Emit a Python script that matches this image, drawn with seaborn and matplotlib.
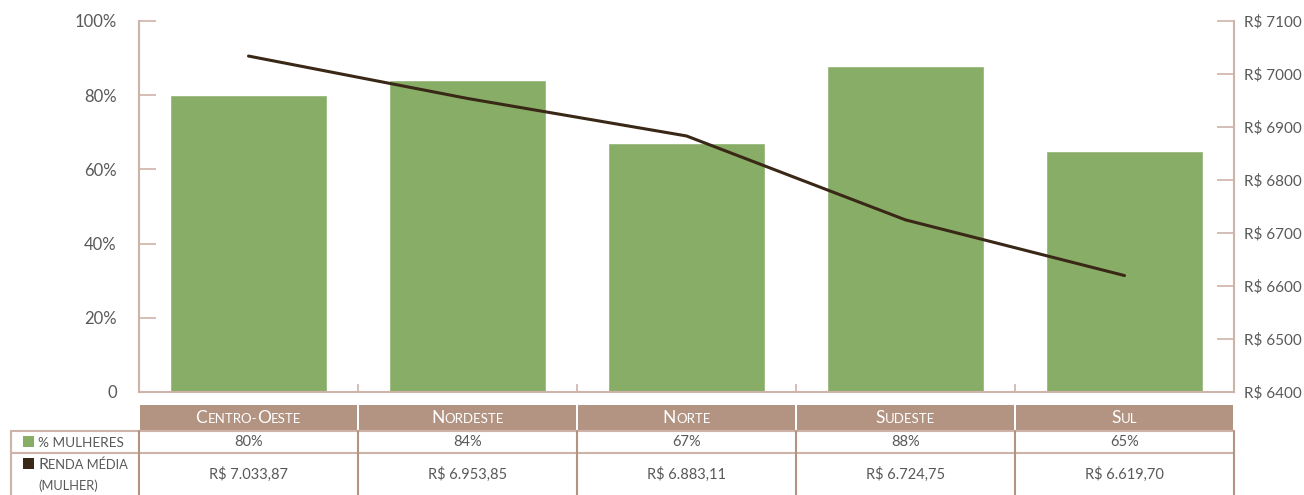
import matplotlib
matplotlib.use("Agg")
import matplotlib.pyplot as plt
import seaborn as sns
import pandas as pd
from matplotlib.patches import Rectangle

regioes = ["Centro-Oeste", "Nordeste", "Norte", "Sudeste", "Sul"]
pct_mulheres = [80, 84, 67, 88, 65]
renda_media = [7033.87, 6953.85, 6883.11, 6724.75, 6619.70]
pct_labels = ["80%", "84%", "67%", "88%", "65%"]
renda_labels = ["R$ 7.033,87", "R$ 6.953,85", "R$ 6.883,11", "R$ 6.724,75", "R$ 6.619,70"]
left_ticks = [0, 20, 40, 60, 80, 100]
right_ticks = [6400, 6500, 6600, 6700, 6800, 6900, 7000, 7100]

GREEN = "#88ad67"
DARK = "#3a2817"
BROWN = "#b39482"
AXIS = "#cdb3a8"
TXT = "#595959"

sns.set_theme(style="white")
plt.rcParams["font.family"] = ["Lato", "DejaVu Sans"]

W, H = 1304, 495
fig = plt.figure(figsize=(W / 100, H / 100), dpi=100)

def box(x0, y0, x1, y1):
    return [x0 / W, 1 - y1 / H, (x1 - x0) / W, (y1 - y0) / H]

df = pd.DataFrame({"regiao": regioes, "pct": pct_mulheres, "renda": renda_media})

ax = fig.add_axes(box(139, 21, 1234, 392))
sns.barplot(data=df, x="regiao", y="pct", color=GREEN, saturation=1,
            width=0.72, ax=ax, zorder=2)
ax.set_xlim(-0.5, 4.5)
ax.set_ylim(0, 100)
ax.set_yticks(left_ticks)
ax.set_yticklabels(["0", "20%", "40%", "60%", "80%", "100%"])
ax.set_xlabel("")
ax.set_ylabel("")
ax.set_xticks([i - 0.5 for i in range(6)])
ax.set_xticklabels([])
for s in ["top", "right"]:
    ax.spines[s].set_visible(False)
for s in ["left", "bottom"]:
    ax.spines[s].set_color(AXIS)
    ax.spines[s].set_linewidth(1.5)
ax.tick_params(axis="y", direction="in", length=12, width=1.2, color=AXIS,
               labelsize=12, labelcolor=TXT, pad=16, left=True)
ax.tick_params(axis="x", direction="in", length=6, width=1.2, color=AXIS, bottom=True)
ax.patch.set_alpha(0)

ax2 = ax.twinx()
sns.lineplot(data=df, x="regiao", y="renda", color=DARK, linewidth=2.2,
             ax=ax2, zorder=3, sort=False)
ax2.set_ylim(6400, 7100)
ax2.set_yticks(right_ticks)
ax2.set_yticklabels([f"R$ {v}" for v in right_ticks])
ax2.set_ylabel("")
for s in ["top", "left", "bottom"]:
    ax2.spines[s].set_visible(False)
ax2.spines["right"].set_color(AXIS)
ax2.spines["right"].set_linewidth(1.5)
ax2.tick_params(axis="y", direction="in", length=12, width=1.2, color=AXIS,
                labelsize=11, labelcolor=TXT, pad=7, right=True)

# data table below the plot
tb = fig.add_axes(box(0, 400, W, H))
tb.set_xlim(0, W)
tb.set_ylim(H, 400)
tb.axis("off")

x_left, x_right = 139, 1234
cw = (x_right - x_left) / len(regioes)
renderer = fig.canvas.get_renderer()

def small_caps(x, y, s, big, small, color, ha="center"):
    # split into runs of original capitals (big) and the rest (small capitals)
    runs = []
    for ch in s:
        is_big = ch.isupper()
        if runs and runs[-1][1] == is_big:
            runs[-1][0] += ch
        else:
            runs.append([ch, is_big])
    texts = []
    for txt, is_big in runs:
        t = tb.text(0, y, txt.upper(), fontsize=big if is_big else small,
                    color=color, va="baseline", ha="left")
        texts.append(t)
    widths = [t.get_window_extent(renderer).width for t in texts]
    total = sum(widths)
    cur = x - total / 2 if ha == "center" else x
    for t, w in zip(texts, widths):
        t.set_x(cur)
        cur += w

# header row
for i, r in enumerate(regioes):
    x0 = x_left + i * cw
    tb.add_patch(Rectangle((x0 + 1, 405), cw - 2, 25, facecolor=BROWN, edgecolor="none"))
    small_caps(x0 + cw / 2, 423, r, 12.5, 9.5, "white")

# table grid
tb.plot([11, x_right], [431, 431], color=AXIS, lw=1.5)
tb.plot([11, x_right], [452.5, 452.5], color=AXIS, lw=1.5)
tb.plot([11, 11], [431, H], color=AXIS, lw=1.5)
for i in range(len(regioes) + 1):
    xx = x_left + i * cw
    tb.plot([xx, xx], [431, H], color=BROWN, lw=1.5)

# row labels
tb.add_patch(Rectangle((23, 436), 11, 11, facecolor=GREEN, edgecolor="none"))
small_caps(38, 447, "% mulheres", 11.5, 9.8, TXT, ha="left")
tb.add_patch(Rectangle((23, 458), 11, 11, facecolor=DARK, edgecolor="none"))
small_caps(38, 469, "Renda média", 11.5, 9.3, TXT, ha="left")
small_caps(38, 490, "(mulher)", 11.5, 9.3, TXT, ha="left")

for i in range(len(regioes)):
    cx = x_left + i * cw + cw / 2
    tb.text(cx, 442, pct_labels[i], ha="center", va="center", fontsize=10.5, color=TXT)
    tb.text(cx, 474, renda_labels[i], ha="center", va="center", fontsize=10.5, color=TXT)

fig.savefig("out.png", dpi=100)
